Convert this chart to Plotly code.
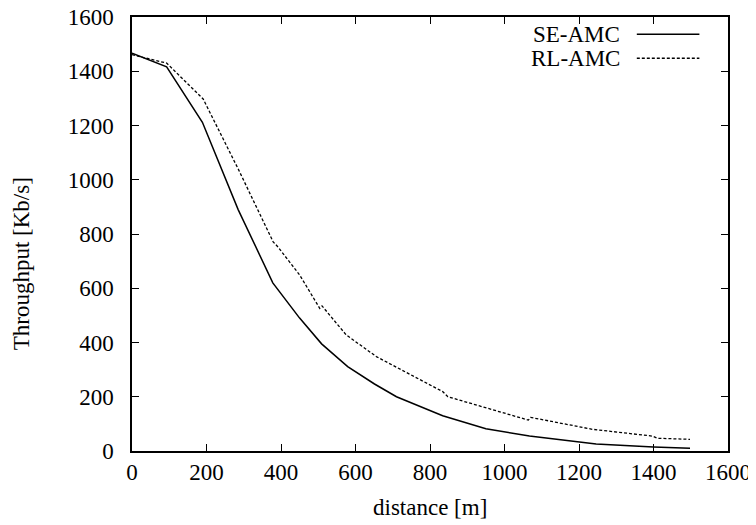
import plotly.graph_objects as go

se_x = [0, 93, 189, 285, 378, 450, 509, 579, 651, 710, 834, 950, 1067, 1246, 1400, 1498]
se_y = [1467, 1416, 1212, 890, 620, 490, 395, 311, 247, 200, 130, 82, 55, 26, 15, 10]

rl_x = [0, 93, 191, 285, 379, 392, 450, 504, 510, 575, 656, 834, 848, 987, 1064, 1070, 1236, 1397, 1410, 1498]
rl_y = [1461, 1430, 1298, 1040, 771, 752, 649, 526, 535, 428, 348, 219, 200, 145, 114, 124, 80, 55, 47, 43]

x_ticks = [0, 200, 400, 600, 800, 1000, 1200, 1400, 1600]
y_ticks = [0, 200, 400, 600, 800, 1000, 1200, 1400, 1600]
series_names = ["SE-AMC", "RL-AMC"]

FONT = "Liberation Serif"
FS = 23

fig = go.Figure()
fig.add_trace(go.Scatter(x=se_x, y=se_y, mode="lines", name=series_names[0],
                         line=dict(color="black", width=1.5), showlegend=False))
fig.add_trace(go.Scatter(x=rl_x, y=rl_y, mode="lines", name=series_names[1],
                         line=dict(color="black", width=1.3, dash="3px,2px"), showlegend=False))

axis_common = dict(
    showgrid=False, zeroline=False, showline=True, linecolor="black", linewidth=1.5,
    mirror="allticks", ticks="inside", ticklen=7, tickwidth=1, tickcolor="black",
    tickfont=dict(family=FONT, size=FS, color="black"), automargin=False,
    ticklabeloverflow="allow",
)
fig.update_xaxes(range=[0, 1600], tickvals=x_ticks, ticktext=[str(v) for v in x_ticks],
                 ticklabelstandoff=0, **axis_common)
fig.update_yaxes(range=[0, 1600], tickvals=y_ticks, ticktext=[str(v) for v in y_ticks],
                 ticklabelstandoff=12, **axis_common)

# axis titles
fig.add_annotation(x=0.5, y=-0.131, xref="paper", yref="paper", text="distance [m]",
                   showarrow=False, xanchor="center", yanchor="middle",
                   font=dict(family=FONT, size=FS, color="black"))
fig.add_annotation(x=-0.184, y=0.431, xref="paper", yref="paper", text="Throughput [Kb/s]",
                   showarrow=False, xanchor="center", yanchor="middle", textangle=-90,
                   font=dict(family=FONT, size=FS, color="black"))

# manual legend (text on the left, sample line on the right, as in the reference)
leg_y = [0.960, 0.905]
dashes = ["solid", "3px,2px"]
for name, yy, d in zip(series_names, leg_y, dashes):
    fig.add_annotation(x=0.8217, y=yy, xref="paper", yref="paper", text=name, showarrow=False,
                       xanchor="right", yanchor="middle",
                       font=dict(family=FONT, size=FS, color="black"))
    fig.add_shape(type="line", xref="paper", yref="paper", x0=0.847, x1=0.952, y0=yy, y1=yy,
                  line=dict(color="black", width=1.5 if d == "solid" else 1.3, dash=d))

# the page body has an 8px margin, so the figure is shrunk/shifted to compensate
fig.update_layout(
    width=748, height=517,
    margin=dict(l=124, r=28, t=9, b=74),
    paper_bgcolor="white", plot_bgcolor="white",
    font=dict(family=FONT, size=FS, color="black"),
)

fig.write_html("out.html")
